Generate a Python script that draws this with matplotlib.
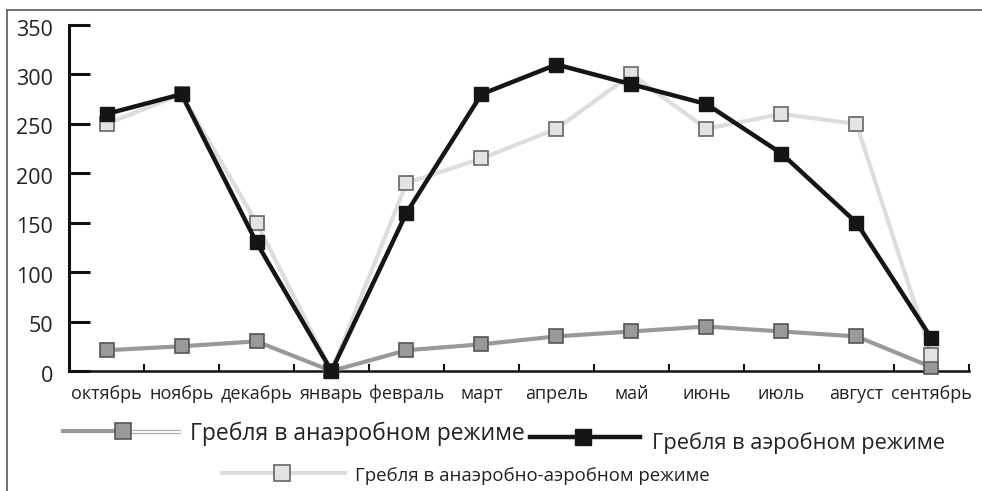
import matplotlib
matplotlib.use("Agg")
import matplotlib.pyplot as plt
from matplotlib.lines import Line2D
import matplotlib.transforms as mtrans
from matplotlib import font_manager

months = ["октябрь", "ноябрь", "декабрь", "январь", "февраль", "март",
          "апрель", "май", "июнь", "июль", "август", "сентябрь"]
anaerobic = [21, 25, 30, 0, 21, 27, 35, 40, 45, 40, 35, 4]
aerobic = [260, 280, 130, 0, 160, 280, 310, 290, 270, 220, 150, 33]
mixed = [250, 280, 150, 0, 190, 215, 245, 300, 245, 260, 250, 16]
y_ticks = [0, 50, 100, 150, 200, 250, 300, 350]
names = ["Гребля в анаэробном режиме", "Гребля в аэробном режиме",
         "Гребля в анаэробно-аэробном режиме"]

avail = {f.name for f in font_manager.fontManager.ttflist}
fam = "Open Sans" if "Open Sans" in avail else "DejaVu Sans"
plt.rcParams['font.family'] = [fam, 'DejaVu Sans']

W, H = 982, 491
fig = plt.figure(figsize=(W / 100, H / 100), dpi=100)

def fx(px):
    return px / W

def fy(py):
    return 1 - py / H

ax = fig.add_axes([fx(69), fy(371), fx(969) - fx(69), fy(25) - fy(371)])
x = list(range(len(months)))

ax.plot(x, anaerobic, color="#999999", lw=3, marker="s", ms=10.5,
        mfc="#999999", mec="#555555", mew=1.2, zorder=3, clip_on=False)
ax.plot(x, mixed, color="#dddddd", lw=3, marker="s", ms=10.5,
        mfc="#e3e3e3", mec="#666666", mew=1.2, zorder=4, clip_on=False)
ax.plot(x, aerobic, color="#151515", lw=3.2, marker="s", ms=10.5,
        mfc="#151515", mec="#151515", mew=1, zorder=5, clip_on=False)

ax.set_xlim(-0.5, len(months) - 0.5)
ax.set_ylim(0, 350)
for s in ["top", "right"]:
    ax.spines[s].set_visible(False)
ax.spines["left"].set_linewidth(2.2)
ax.spines["bottom"].set_linewidth(1.8)
ax.spines["left"].set_color("#111111")
ax.spines["bottom"].set_color("#111111")

ax.set_yticks(y_ticks)
ax.set_yticklabels([str(v) for v in y_ticks], fontsize=15.5, color="#222222")
ax.tick_params(axis="y", direction="in", length=15, width=2.2, pad=11.5,
               color="#111111")
for lab in ax.get_yticklabels():
    lab.set_va("center")
    lab.set_transform(lab.get_transform() +
                      mtrans.ScaledTranslation(0, -5 / 100, fig.dpi_scale_trans))

# category boundary ticks on x axis
bounds = [i + 0.5 for i in range(len(months))]
ax.set_xticks(bounds)
ax.set_xticklabels([])
ax.tick_params(axis="x", direction="in", length=5, width=1.5, color="#111111")
ax.set_xticks(x, minor=True)
ax.set_xticklabels(months, minor=True, fontsize=13, color="#222222")
ax.tick_params(axis="x", which="minor", length=0, pad=10)

# figure frame (top and left)
fig.add_artist(Line2D([fx(7), 1], [fy(10), fy(10)], color="#666666", lw=1.3))
fig.add_artist(Line2D([fx(7), fx(7)], [fy(10), 0], color="#666666", lw=1.3))

# legend, drawn by hand
ly1 = fy(431)
fig.add_artist(Line2D([fx(63), fx(118)], [ly1, ly1], color="#999999", lw=3))
fig.add_artist(Line2D([fx(126), fx(180)], [ly1 + 1.5 / H, ly1 + 1.5 / H], color="#aaaaaa", lw=0.8))
fig.add_artist(Line2D([fx(126), fx(180)], [ly1 - 1.5 / H, ly1 - 1.5 / H], color="#aaaaaa", lw=0.8))
fig.add_artist(Line2D([fx(123)], [ly1], marker="s", ms=11, mfc="#999999",
                      mec="#555555", mew=1.2, lw=0))
fig.text(fx(190), fy(434), names[0], fontsize=16.5, va="center", ha="left", color="#222222")

ly2 = fy(437)
fig.add_artist(Line2D([fx(530), fx(640)], [ly2, ly2], color="#151515", lw=3.2))
fig.add_artist(Line2D([fx(583)], [ly2], marker="s", ms=11, mfc="#151515",
                      mec="#151515", lw=0))
fig.text(fx(652), fy(443), names[1], fontsize=15.7, va="center", ha="left", color="#222222")

ly3 = fy(473)
fig.add_artist(Line2D([fx(222), fx(345)], [ly3, ly3], color="#dddddd", lw=3))
fig.add_artist(Line2D([fx(282)], [ly3], marker="s", ms=11, mfc="#e3e3e3",
                      mec="#666666", mew=1.2, lw=0))
fig.text(fx(355), fy(476), names[2], fontsize=13.4, va="center", ha="left", color="#222222")

fig.savefig("out.png", dpi=100)
